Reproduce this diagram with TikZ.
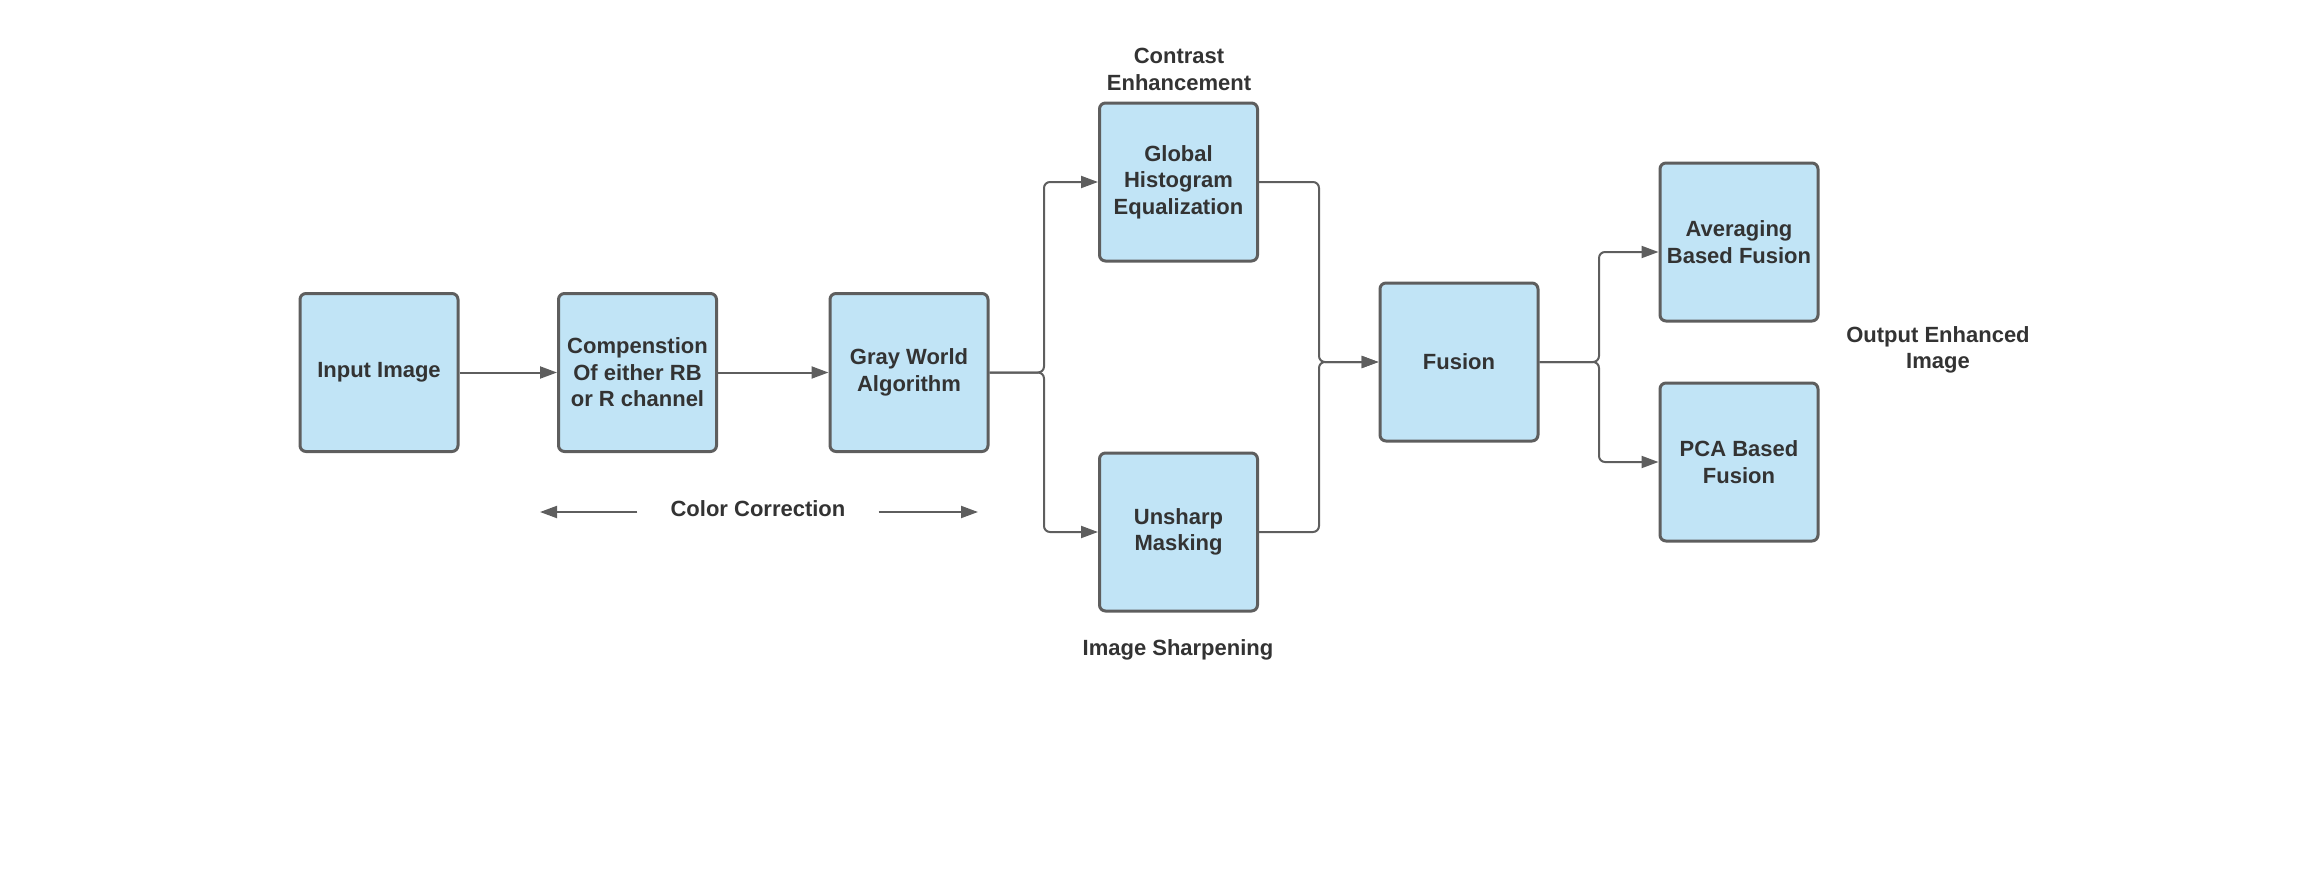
\documentclass[tikz,border=0pt]{standalone}
\usepackage{fontspec}
\setmainfont{Liberation Sans}
\usetikzlibrary{arrows.meta,positioning}
\definecolor{boxfill}{HTML}{C1E4F6}
\definecolor{edge}{HTML}{5E5E5E}
\definecolor{txt}{HTML}{333333}
\begin{document}
\begin{tikzpicture}[x=1pt,y=-1pt,
  every node/.style={font=\fontsize{22}{26.5}\selectfont\bfseries, text=txt, align=center},
  stage/.style={draw=edge, fill=boxfill, line width=3pt, rounded corners=6pt,
    minimum width=158pt, minimum height=158pt, inner sep=0pt},
  lbl/.style={inner sep=0pt},
  conn/.style={draw=edge, line width=2pt, rounded corners=6pt},
  arr/.style={conn, -{Triangle[length=17pt,width=12pt]}}
]
\useasboundingbox (0,0) rectangle (2308,879);
\node[stage] (input) at (379,372.5) {Input Image};
\node[stage] (comp) at (637.5,372.5) {Compenstion\\Of either RB\\or R channel};
\node[stage] (gray) at (909,372.5) {Gray World\\Algorithm};
\node[stage] (ghe) at (1178.5,182) {Global\\Histogram\\Equalization};
\node[stage] (usm) at (1178.5,532) {Unsharp\\Masking};
\node[stage] (fus) at (1459,362) {Fusion};
\node[stage] (avg) at (1739,242) {Averaging\\Based Fusion};
\node[stage] (pca) at (1739,462) {PCA Based\\Fusion};

\node[lbl] (ce) at (1179,69.5) {Contrast\\Enhancement};
\node[lbl] (is) at (1178,650) {Image Sharpening};
\node[lbl] (out) at (1938,350) {Output Enhanced\\Image};
\node[lbl] (cc) at (758,509) {Color Correction};
\coordinate (ccL) at (540,512);
\coordinate (ccR) at (978,512);

\draw[arr] (input.east) -- (comp.west);
\draw[arr] (comp.east) -- (gray.west);
\draw[arr] (gray.east) -- (1044,372.5) |- (ghe.west);
\draw[arr] (gray.east) -- (1044,372.5) |- (usm.west);
\draw[arr] (ghe.east) -| (1319,362) -- (fus.west);
\draw[arr] (usm.east) -| (1319,362) -- (fus.west);
\draw[arr] (fus.east) -| (1599,252) -- ([yshift=-10pt]avg.west);
\draw[arr] (fus.east) -| (1599,462) -- (pca.west);
\draw[arr] ([xshift=-33pt,yshift=-3pt]cc.west) -- (ccL);
\draw[arr] ([xshift=33pt,yshift=-3pt]cc.east) -- (ccR);
\end{tikzpicture}
\end{document}
